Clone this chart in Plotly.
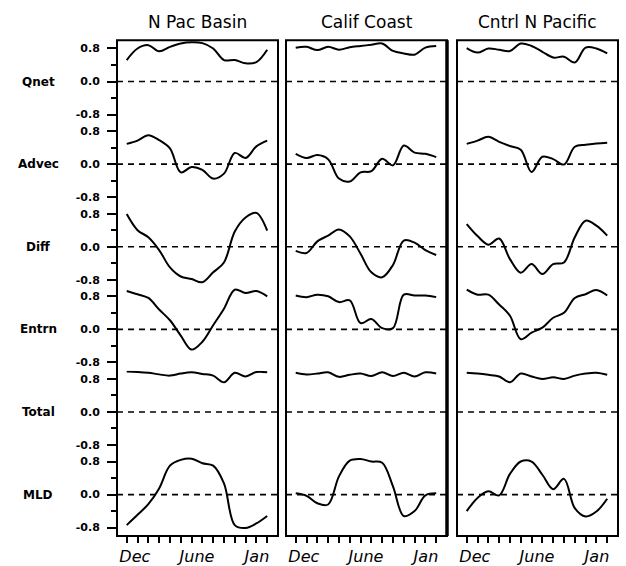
import plotly.graph_objects as go

# ---------------- data (monthly, Dec .. Jan of following year) ----------------
months = list(range(14))
regions = ["N Pac Basin", "Calif Coast", "Cntrl N Pacific"]
terms = ["Qnet", "Advec", "Diff", "Entrn", "Total", "MLD"]
x_tick_vals = [0.75, 6.5, 12.05]
x_tick_text = ["Dec", "June", "Jan"]
y_tick_vals = [-0.8, 0.0, 0.8]
y_tick_text = ["-0.8", "0.0", "0.8"]

npac_qnet = [0.52, 0.80, 0.88, 0.73, 0.84, 0.92, 0.95, 0.93, 0.80, 0.52, 0.52, 0.44, 0.47, 0.77]
npac_advec = [0.49, 0.57, 0.70, 0.58, 0.38, -0.20, -0.07, -0.14, -0.35, -0.23, 0.27, 0.15, 0.43, 0.57]
npac_diff = [0.79, 0.40, 0.23, -0.08, -0.50, -0.72, -0.78, -0.86, -0.62, -0.38, 0.37, 0.71, 0.82, 0.39]
npac_entrn = [0.93, 0.85, 0.76, 0.48, 0.22, -0.15, -0.49, -0.30, 0.10, 0.50, 0.96, 0.88, 0.93, 0.80]
npac_total = [0.98, 0.97, 0.95, 0.91, 0.88, 0.93, 0.96, 0.92, 0.88, 0.72, 0.95, 0.86, 0.97, 0.96]
npac_mld = [-0.74, -0.49, -0.23, 0.15, 0.70, 0.84, 0.87, 0.76, 0.70, 0.27, -0.74, -0.81, -0.70, -0.52]

calif_qnet = [0.82, 0.84, 0.76, 0.84, 0.77, 0.83, 0.86, 0.89, 0.92, 0.74, 0.68, 0.65, 0.82, 0.86]
calif_advec = [0.25, 0.15, 0.22, 0.12, -0.35, -0.42, -0.20, -0.17, 0.13, -0.03, 0.45, 0.28, 0.25, 0.17]
calif_diff = [-0.10, -0.15, 0.13, 0.27, 0.42, 0.25, -0.17, -0.62, -0.74, -0.44, 0.15, 0.10, -0.08, -0.20]
calif_entrn = [0.82, 0.78, 0.84, 0.80, 0.66, 0.70, 0.15, 0.25, 0.03, 0.03, 0.84, 0.82, 0.82, 0.78]
calif_total = [0.95, 0.91, 0.93, 0.96, 0.85, 0.90, 0.93, 0.87, 0.96, 0.87, 0.95, 0.86, 0.96, 0.93]
calif_mld = [0.03, -0.03, -0.21, -0.24, 0.44, 0.82, 0.86, 0.80, 0.77, 0.20, -0.52, -0.40, -0.02, 0.03]

cntrl_qnet = [0.81, 0.70, 0.80, 0.77, 0.74, 0.92, 0.86, 0.72, 0.58, 0.60, 0.46, 0.82, 0.80, 0.68]
cntrl_advec = [0.49, 0.57, 0.66, 0.54, 0.44, 0.35, -0.19, 0.18, 0.12, -0.01, 0.42, 0.47, 0.50, 0.52]
cntrl_diff = [0.55, 0.26, 0.05, 0.20, -0.30, -0.63, -0.42, -0.66, -0.42, -0.38, 0.23, 0.63, 0.51, 0.27]
cntrl_entrn = [0.96, 0.84, 0.84, 0.60, 0.33, -0.24, -0.08, 0.04, 0.28, 0.40, 0.76, 0.85, 0.95, 0.82]
cntrl_total = [0.95, 0.93, 0.90, 0.86, 0.72, 0.93, 0.86, 0.80, 0.84, 0.80, 0.88, 0.93, 0.95, 0.90]
cntrl_mld = [-0.40, -0.08, 0.08, -0.02, 0.50, 0.80, 0.80, 0.48, 0.13, 0.38, -0.33, -0.53, -0.41, -0.10]

series = [
    [npac_qnet, calif_qnet, cntrl_qnet],
    [npac_advec, calif_advec, cntrl_advec],
    [npac_diff, calif_diff, cntrl_diff],
    [npac_entrn, calif_entrn, cntrl_entrn],
    [npac_total, calif_total, cntrl_total],
    [npac_mld, calif_mld, cntrl_mld],
]

# ---------------- layout geometry (pixels of the 626x566 page) ----------------
W, H = 626, 566
col_px = [(117, 278), (286, 447), (457, 618)]
top_px, row_h = 40.5, 83.2
x_range = [-0.9, 14.0]
y_range = [-1.0, 1.0]

fig = go.Figure()
layout = dict(
    width=W, height=H, margin=dict(l=0, r=0, t=0, b=0),
    paper_bgcolor="white", plot_bgcolor="white", showlegend=False,
    font=dict(family="DejaVu Sans", color="black"),
)
shapes = []
annotations = []

for r in range(6):
    y0p = top_px + r * row_h
    y1p = y0p + row_h
    ydom = [1 - y1p / H, 1 - y0p / H]
    for c in range(3):
        n = r * 3 + c + 1
        xname = "xaxis" if n == 1 else f"xaxis{n}"
        yname = "yaxis" if n == 1 else f"yaxis{n}"
        xref = "x" if n == 1 else f"x{n}"
        yref = "y" if n == 1 else f"y{n}"
        xdom = [col_px[c][0] / W, col_px[c][1] / W]

        xa = dict(domain=xdom, range=x_range, anchor=yref, showgrid=False,
                  zeroline=False, showline=False, fixedrange=True)
        if r == 5:
            xa.update(tickmode="array", tickvals=x_tick_vals, ticktext=x_tick_text,
                      ticks="outside", ticklen=6, tickcolor="rgba(0,0,0,0)",
                      tickfont=dict(family="DejaVu Sans", size=16, color="black", style="italic"),
                      minor=dict(tickmode="array", tickvals=months, ticks="outside",
                                 ticklen=6, tickwidth=1.5, tickcolor="black"))
        else:
            xa.update(showticklabels=False, ticks="")
        layout[xname] = xa

        ya = dict(domain=ydom, range=y_range, anchor=xref, showgrid=False,
                  zeroline=False, showline=False, fixedrange=True)
        if c == 0:
            ya.update(tickmode="array", tickvals=y_tick_vals, ticktext=y_tick_text,
                      ticks="outside", ticklen=9, tickwidth=1.5, tickcolor="black",
                      ticklabelstandoff=5,
                      tickfont=dict(family="DejaVu Sans", size=11, color="black", weight="bold"),
                      minor=dict(tickmode="array", tickvals=[-0.4, 0.4], ticks="outside",
                                 ticklen=5, tickwidth=1.5, tickcolor="black"))
        else:
            ya.update(showticklabels=False, ticks="")
        layout[yname] = ya

        fig.add_trace(go.Scatter(
            x=months, y=series[r][c], mode="lines", xaxis=xref, yaxis=yref,
            line=dict(color="black", width=2, shape="spline", smoothing=1.0),
            hoverinfo="skip"))

        # dashed zero line
        shapes.append(dict(type="line", xref=f"{xref} domain", yref=yref,
                           x0=0, x1=1, y0=0, y1=0,
                           line=dict(color="black", width=1.6, dash="6px,5px")))

    # row label
    annotations.append(dict(text=f"<b>{terms[r]}</b>", xref="paper", yref="paper",
                            x=38 / W, y=1 - (y0p + row_h / 2) / H,
                            showarrow=False, xanchor="center", yanchor="middle",
                            font=dict(family="DejaVu Sans", size=12, color="black")))

# column frames and titles
top_frac = 1 - top_px / H
bot_frac = 1 - (top_px + 6 * row_h) / H
for c in range(3):
    x0 = col_px[c][0] / W
    x1 = col_px[c][1] / W
    shapes.append(dict(type="rect", xref="paper", yref="paper",
                       x0=x0, x1=x1, y0=bot_frac, y1=top_frac,
                       line=dict(color="black", width=2)))
    annotations.append(dict(text=regions[c], xref="paper", yref="paper",
                            x=(x0 + x1) / 2, y=1 - 22 / H,
                            showarrow=False, xanchor="center", yanchor="middle",
                            font=dict(family="DejaVu Sans", size=17, color="black")))
# heavier right border of middle panel
shapes.append(dict(type="line", xref="paper", yref="paper",
                   x0=col_px[1][1] / W, x1=col_px[1][1] / W, y0=bot_frac, y1=top_frac,
                   line=dict(color="black", width=3.5)))

layout["shapes"] = shapes
layout["annotations"] = annotations
fig.update_layout(**layout)
fig.write_html("out.html")
